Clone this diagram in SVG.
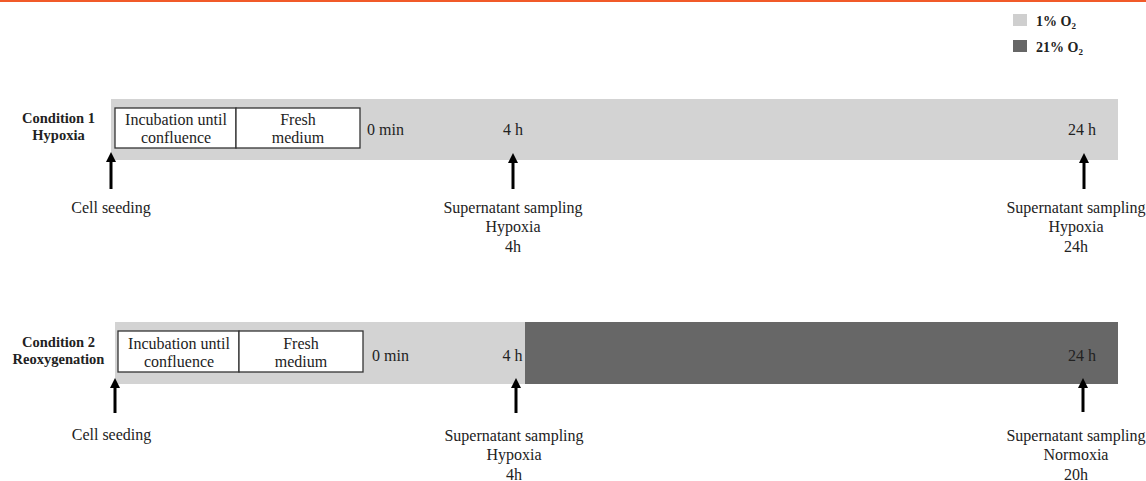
<svg xmlns="http://www.w3.org/2000/svg" width="1146" height="481" viewBox="0 0 1146 481">
<defs>
<style>
text{font-family:"Liberation Serif","Times New Roman",serif;fill:#222;}
.t{font-size:16px;}
.c{text-anchor:middle;}
.b{font-weight:bold;font-size:14.5px;}
.lg{font-weight:bold;font-size:14px;}
.light{fill:#d3d3d3;}
.dark{fill:#676767;}
.box{fill:#fff;stroke:#333;stroke-width:1.3;}
.arr{stroke:#000;stroke-width:3;fill:none;marker-end:url(#ah);}
</style>
<marker id="ah" viewBox="0 0 10 10" refX="0" refY="5" markerWidth="10" markerHeight="10" markerUnits="userSpaceOnUse" orient="auto">
<path d="M0,0 L10,5 L0,10 z" fill="#000"/>
</marker>
</defs>
<rect x="0" y="0" width="1146" height="2" fill="#f15a29"/>
<g id="legend">
<rect x="1013" y="14" width="14" height="12" fill="#cfcfcf"/>
<text class="lg" x="1036" y="26">1% O<tspan font-size="9" dy="3">2</tspan></text>
<rect x="1013" y="40" width="14" height="12" fill="#666"/>
<text class="lg" x="1036" y="52">21% O<tspan font-size="9" dy="3">2</tspan></text>
</g>
<g id="condition1">
<text class="b c" x="58.5" y="123">Condition 1</text>
<text class="b c" x="58.5" y="140">Hypoxia</text>
<rect class="light" x="111" y="99" width="1007" height="61"/>
<g id="c1-incubation">
<rect class="box" x="115" y="108" width="121" height="40"/>
<text class="t c" x="176" y="125">Incubation until</text>
<text class="t c" x="176" y="143">confluence</text>
</g>
<g id="c1-fresh">
<rect class="box" x="236" y="108" width="124" height="40"/>
<text class="t c" x="298" y="125">Fresh</text>
<text class="t c" x="298" y="143">medium</text>
</g>
<text class="t" x="367" y="135">0 min</text>
<text class="t c" x="513" y="135">4 h</text>
<text class="t c" x="1082" y="135">24 h</text>
<text class="t c" x="111" y="213">Cell seeding</text>
<text class="t c" x="513" y="213">Supernatant sampling</text>
<text class="t c" x="513" y="232">Hypoxia</text>
<text class="t c" x="513" y="252">4h</text>
<text class="t c" x="1076" y="213">Supernatant sampling</text>
<text class="t c" x="1076" y="232">Hypoxia</text>
<text class="t c" x="1076" y="252">24h</text>
</g>
<g id="condition2">
<text class="b c" x="58.5" y="347">Condition 2</text>
<text class="b c" x="58.5" y="364">Reoxygenation</text>
<rect class="light" x="115" y="322" width="411" height="62"/>
<rect class="dark" x="525" y="322" width="593" height="62"/>
<g id="c2-incubation">
<rect class="box" x="118" y="331" width="121" height="41"/>
<text class="t c" x="179" y="349">Incubation until</text>
<text class="t c" x="179" y="367">confluence</text>
</g>
<g id="c2-fresh">
<rect class="box" x="239" y="331" width="124" height="41"/>
<text class="t c" x="301" y="349">Fresh</text>
<text class="t c" x="301" y="367">medium</text>
</g>
<text class="t" x="372" y="361">0 min</text>
<text class="t c" x="512.5" y="361">4 h</text>
<text class="t c" x="1082" y="361">24 h</text>
<text class="t c" x="111.5" y="440">Cell seeding</text>
<text class="t c" x="514" y="441">Supernatant sampling</text>
<text class="t c" x="514" y="460">Hypoxia</text>
<text class="t c" x="514" y="480">4h</text>
<text class="t c" x="1076" y="441">Supernatant sampling</text>
<text class="t c" x="1076" y="460">Normoxia</text>
<text class="t c" x="1076" y="480">20h</text>
</g>
<g id="connectors">
<line class="arr" x1="111" y1="189" x2="111" y2="162"/>
<line class="arr" x1="513" y1="189" x2="513" y2="163"/>
<line class="arr" x1="1084" y1="189" x2="1084" y2="163"/>
<line class="arr" x1="115" y1="413" x2="115" y2="388"/>
<line class="arr" x1="516" y1="413" x2="516" y2="388"/>
<line class="arr" x1="1083" y1="412" x2="1083" y2="388"/>
</g>
</svg>
